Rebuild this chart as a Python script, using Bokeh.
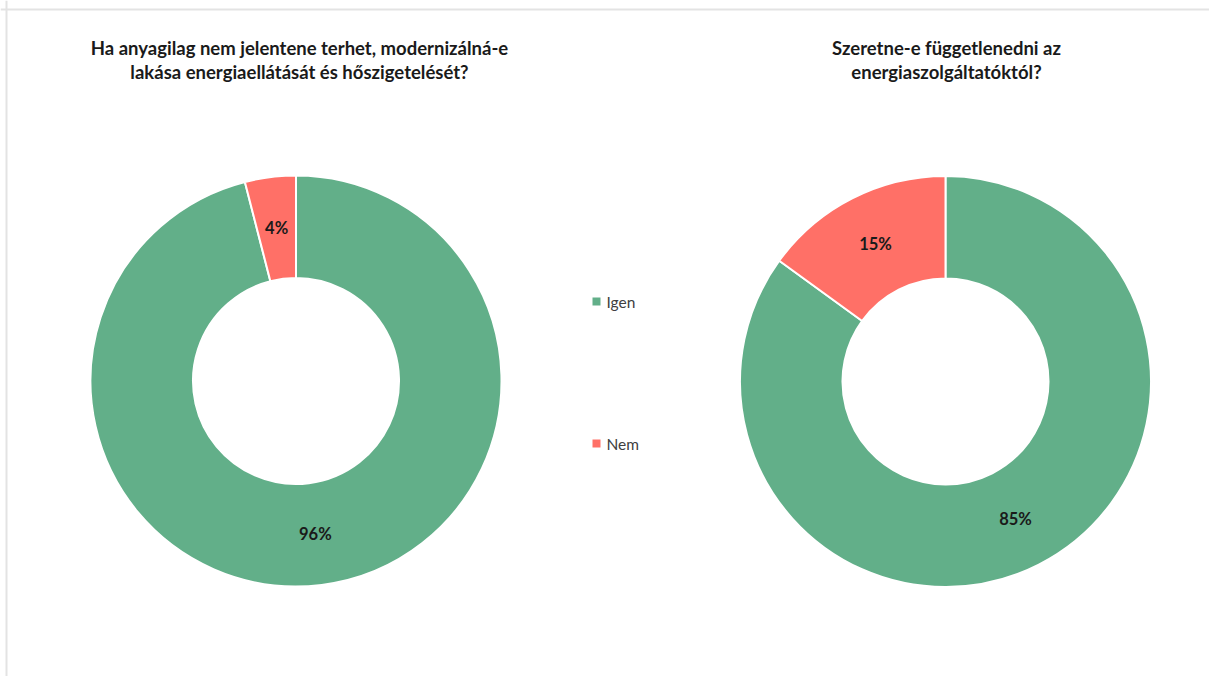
import numpy as np
from bokeh.plotting import figure
from bokeh.models import ColumnDataSource, Range1d, Span
from bokeh.core.properties import value
from bokeh.embed import file_html
from bokeh.resources import INLINE

# ---- data ----
categories = ["Igen", "Nem"]
series_colors = ["#62AF89", "#FF7067"]
chart1_title = ["Ha anyagilag nem jelentene terhet, modernizálná-e",
                "lakása energiaellátását és hőszigetelését?"]
chart1_values = [96, 4]
chart2_title = ["Szeretne-e függetlenedni az",
                "energiaszolgáltatóktól?"]
chart2_values = [85, 15]

# ---- layout (pixels; data units == screen pixels, y measured up from bottom) ----
W, H = 1209, 676
FONT = "Lato"
charts = [
    dict(title=chart1_title, values=chart1_values, cx=295.5, cy=H - 380.5, tx=299),
    dict(title=chart2_title, values=chart2_values, cx=945.0, cy=H - 381.0, tx=946),
]
R_OUT, R_IN = 205.5, 103.0

p = figure(width=W, height=H, output_backend="svg", toolbar_location=None,
           x_range=Range1d(0, W), y_range=Range1d(0, H),
           min_border=0, outline_line_color=None)
p.axis.visible = False
p.grid.visible = False
p.background_fill_color = "white"
p.border_fill_color = "white"

# frame lines (top & left) like the reference border
p.add_layout(Span(location=H - 9, dimension="width", line_color="#E3E3E3", line_width=2))
p.add_layout(Span(location=6, dimension="height", line_color="#E3E3E3", line_width=2))

for c in charts:
    vals = np.array(c["values"], dtype=float)
    frac = vals / vals.sum()
    cum_end = np.cumsum(frac)
    cum_start = cum_end - frac
    start = np.pi / 2 - cum_start * 2 * np.pi
    end = np.pi / 2 - cum_end * 2 * np.pi
    mid = (start + end) / 2
    rmid = (R_OUT + R_IN) / 2
    src = ColumnDataSource(dict(
        x=[c["cx"]] * len(vals), y=[c["cy"]] * len(vals),
        start=start, end=end, color=series_colors,
        lx=c["cx"] + rmid * np.cos(mid), ly=c["cy"] + rmid * np.sin(mid),
        label=[f"{int(v)}%" for v in vals],
    ))
    p.annular_wedge(x="x", y="y", inner_radius=R_IN, outer_radius=R_OUT,
                    start_angle="start", end_angle="end", direction="clock",
                    fill_color="color", line_color="white", line_width=2, source=src)
    p.text(x="lx", y="ly", text="label", source=src, text_align="center",
           text_baseline="middle", text_font=value(FONT), text_font_style="bold",
           text_font_size="16.5px", text_color="#1A1A1A")
    # titles
    tsrc = ColumnDataSource(dict(x=[c["tx"]] * 2, y=[H - 47, H - 71], t=c["title"]))
    p.text(x="x", y="y", text="t", source=tsrc, text_align="center",
           text_baseline="middle", text_font=value(FONT), text_font_style="bold",
           text_font_size="18.5px", text_color="#1A1A1A")

# legend
lsrc = ColumnDataSource(dict(x=[596, 596], y=[H - 301, H - 443], color=series_colors,
                             tx=[606, 606], label=categories))
p.scatter(x="x", y="y", marker="square", size=8, fill_color="color",
          line_color=None, source=lsrc)
p.text(x="tx", y="y", text="label", source=lsrc, text_align="left",
       text_baseline="middle", text_font=value(FONT), text_font_size="15.5px",
       text_color="#404040")

open("out.html", "w").write(file_html(p, INLINE))
